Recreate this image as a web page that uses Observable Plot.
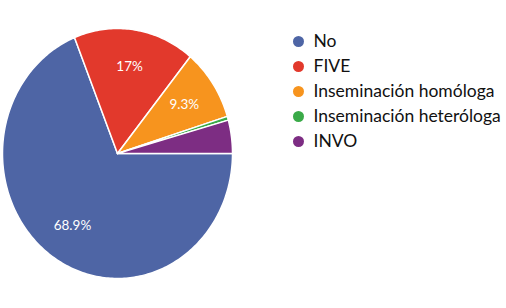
<!DOCTYPE html>
<html><head><meta charset="utf-8">
<script src="https://cdn.jsdelivr.net/npm/d3@7"></script>
<script src="https://cdn.jsdelivr.net/npm/@observablehq/plot@0.6"></script>
<style>
html,body{margin:0;padding:0;background:#fff;}
#chart{position:relative;width:506px;height:308px;overflow:hidden;}
#pie{position:absolute;left:0;top:0;}
#legend{position:absolute;left:240px;top:0;}
</style></head><body><div id="chart"><div id="pie"></div><div id="legend"></div></div>
<script>
const categories = ["No", "FIVE", "Inseminación homóloga", "Inseminación heteróloga", "INVO"];
const values = [68.9, 17, 9.3, 0.5, 4.3];
const labels = ["68.9%", "17%", "9.3%", "", ""];
const colors = ["#4e65a5", "#e2392c", "#f7941e", "#3aaa48", "#7d2d83"];

const arcs = d3.pie().sort(null).value(d => d)
  .startAngle(Math.PI / 2).endAngle(Math.PI / 2 + 2 * Math.PI)(values);
const slicePts = [];
arcs.forEach((a, i) => {
  const n = Math.max(2, Math.ceil((a.endAngle - a.startAngle) / (Math.PI / 180)));
  slicePts.push({cat: categories[i], x: 0, y: 0});
  for (let j = 0; j <= n; j++) {
    const t = a.startAngle + (a.endAngle - a.startAngle) * j / n;
    slicePts.push({cat: categories[i], x: Math.sin(t), y: Math.cos(t)});
  }
  slicePts.push({cat: categories[i], x: 0, y: 0});
});
const labelPts = arcs.map((a, i) => {
  const m = (a.startAngle + a.endAngle) / 2;
  return {label: labels[i], x: 0.7 * Math.sin(m), y: 0.7 * Math.cos(m)};
}).filter(d => d.label);

const pie = Plot.plot({
  width: 240, height: 308, margin: 0,
  style: {fontFamily: "Lato", background: "transparent", overflow: "visible"},
  x: {domain: [-1, 1], range: [2, 232], axis: null},
  y: {domain: [-1, 1], range: [278, 28], axis: null},
  color: {domain: categories, range: colors},
  marks: [
    Plot.line(slicePts, {x: "x", y: "y", z: "cat", fill: "cat", stroke: "white", strokeWidth: 1.5, strokeLinejoin: "round"}),
    Plot.text(labelPts, {x: "x", y: "y", text: "label", fill: "white", fontSize: 13.5})
  ]
});
document.getElementById("pie").append(pie);

const legend = Plot.plot({
  width: 266, height: 308, margin: 0,
  style: {fontFamily: "Lato", background: "transparent", overflow: "visible"},
  x: {domain: [0, 1], range: [58, 73], axis: null},
  y: {type: "point", domain: categories, range: [40, 142], padding: 0, axis: null},
  color: {domain: categories, range: colors},
  marks: [
    Plot.dot(categories, {x: () => 0, y: d => d, fill: d => d, r: 5.5}),
    Plot.text(categories, {x: () => 1, y: d => d, text: d => d, textAnchor: "start", fontSize: 17.5, fill: "#111"})
  ]
});
document.getElementById("legend").append(legend);
</script></body></html>
